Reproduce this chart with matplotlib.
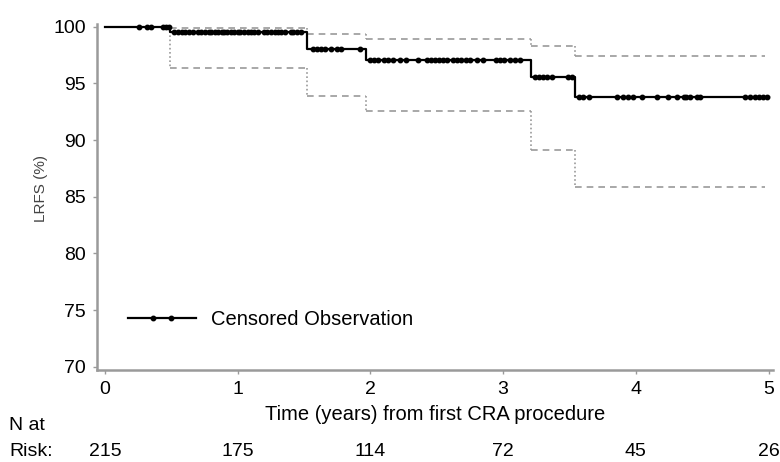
import numpy as np
import matplotlib
matplotlib.use("Agg")
import matplotlib.pyplot as plt
from matplotlib.lines import Line2D
from matplotlib.legend_handler import HandlerLine2D, HandlerTuple
import matplotlib.transforms as mtransforms

# Kaplan-Meier estimate (step values start at each event time)
event_times = [0, 0.49, 1.52, 1.97, 3.21, 3.54]
surv = [100, 99.5, 98.0, 97.1, 95.6, 93.8]
upper_ci = [100, 99.9, 99.4, 98.9, 98.3, 97.4]
lower_ci = [100, 96.4, 93.9, 92.6, 89.1, 85.9]
curve_end = 5.0
ci_end = 4.97

# censored observation times (years)
censor_times = [
    0.26, 0.32, 0.35, 0.44, 0.46, 0.48,
    0.52, 0.55, 0.58, 0.60, 0.63, 0.66, 0.70, 0.72, 0.75, 0.78, 0.80, 0.83,
    0.85, 0.88, 0.90, 0.92, 0.95, 0.97, 1.00, 1.02, 1.05, 1.08, 1.10, 1.12,
    1.15, 1.20, 1.22, 1.25, 1.28, 1.30, 1.33, 1.36, 1.40, 1.42, 1.45, 1.48,
    1.57, 1.60, 1.63, 1.66, 1.70, 1.75, 1.78, 1.92,
    2.00, 2.03, 2.06, 2.10, 2.13, 2.17, 2.22, 2.27, 2.36, 2.43, 2.46, 2.49,
    2.52, 2.55, 2.58, 2.62, 2.65, 2.68, 2.72, 2.75, 2.80, 2.85, 2.95, 2.98,
    3.01, 3.05, 3.09, 3.13,
    3.24, 3.27, 3.30, 3.33, 3.37, 3.49, 3.52,
    3.57, 3.60, 3.65, 3.86, 3.90, 3.94, 3.98, 4.05, 4.16, 4.24, 4.31, 4.36,
    4.38, 4.41, 4.46, 4.48, 4.82, 4.86, 4.90, 4.93, 4.96, 4.99,
]

risk_times = [0, 1, 2, 3, 4, 5]
n_at_risk = [215, 175, 114, 72, 45, 26]

plt.rcParams['font.family'] = ['Liberation Sans', 'DejaVu Sans']
plt.rcParams['font.size'] = 14

fig = plt.figure(figsize=(7.8, 4.62), dpi=100)
ax = fig.add_axes([0.1244, 0.2002, 0.866, 0.748])

grey = '#9a9a9a'

# confidence limits: dashed horizontal runs, dotted vertical drops
for ci in [upper_ci, lower_ci]:
    starts = event_times
    stops = event_times[1:] + [ci_end]
    ax.hlines(ci, starts, stops, color=grey, lw=1.2, linestyles=(0, (4, 3)))
    ax.vlines(event_times[1:], ci[:-1], ci[1:], color=grey, lw=1.2,
              linestyles=(0, (1, 1.5)))

x = event_times + [curve_end]
y = surv + [surv[-1]]
ax.step(x, y, where='post', color='black', lw=1.6)

idx = np.searchsorted(event_times, censor_times, side='right') - 1
censor_y = np.array(surv)[idx]
ax.plot(censor_times, censor_y, 'o', color='black', ms=3.2, ls='none')

ax.set_xlim(-0.06, 5.03)
ax.set_ylim(69.75, 100.25)
ax.set_xticks(range(0, 6))
ax.set_yticks(range(70, 101, 5))

for side in ['top', 'right']:
    ax.spines[side].set_visible(False)
for side in ['left', 'bottom']:
    ax.spines[side].set_color(grey)
    ax.spines[side].set_linewidth(1.8)
ax.tick_params(length=3, width=1, color=grey, labelsize=14)
ax.tick_params(axis='y', pad=5)
ax.tick_params(axis='x', pad=5)

ax.set_xlabel('Time (years) from first CRA procedure', fontsize=14.5, labelpad=5)
ax.set_ylabel('LRFS (%)', fontsize=11, color='#444444')
ax.yaxis.set_label_coords(-0.072, 0.525)

# legend: full line with two censor dots inside it
leg_line = Line2D([], [], color='black', lw=1.6)
leg_dots = Line2D([], [], color='black', marker='o', ms=3.2, ls='none')
ax.legend([(leg_line, leg_dots)], ['Censored Observation'],
          handler_map={leg_line: HandlerLine2D(numpoints=1),
                       leg_dots: HandlerLine2D(numpoints=2, marker_pad=1.24),
                       tuple: HandlerTuple(ndivide=1)},
          loc='center left', bbox_to_anchor=(0.046, 0.146), frameon=False,
          borderpad=0, borderaxespad=0, handlelength=3.35, handletextpad=0.75,
          fontsize=14.5)

# number at risk table
trans = mtransforms.blended_transform_factory(ax.transData, fig.transFigure)
fig.text(0.012, 0.080, 'N at', ha='left', va='center', fontsize=14)
fig.text(0.012, 0.022, 'Risk:', ha='left', va='center', fontsize=14)
for t, n in zip(risk_times, n_at_risk):
    ax.text(t, 0.022, str(n), transform=trans, ha='center', va='center', fontsize=14)

fig.savefig('out.png', dpi=100)
